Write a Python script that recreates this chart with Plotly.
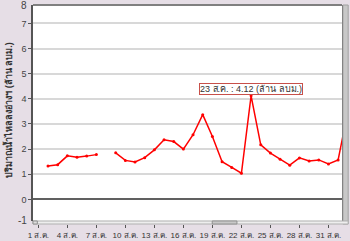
import plotly.graph_objects as go

days = list(range(1, 34))
values = [None, 1.33, 1.38, 1.73, 1.68, 1.72, 1.78, None, 1.85, 1.55, 1.49, 1.66,
          1.97, 2.37, 2.30, 2.00, 2.57, 3.37, 2.50, 1.50, 1.27, 1.04, 4.12, 2.17,
          1.84, 1.60, 1.36, 1.65, 1.53, 1.57, 1.41, 1.57, 3.50]
tick_days = [1, 4, 7, 10, 13, 16, 19, 22, 25, 28, 31]
tick_labels = [f"{d} ส.ค." for d in tick_days]
y_ticks = [0, 1, 2, 3, 4, 5, 6, 7]
y_title = "ปริมาณน้ำไหลลงอ่างฯ (ล้าน ลบม.)"
callout_day = 23
callout_value = 4.12
callout_text = "23 ส.ค. : 4.12 (ล้าน ลบม.)"

FONT = "'Liberation Sans', Arial, sans-serif"
BG = "#e6dee6"
YB = 0.0137  # bottom of the value area inside the paper

fig = go.Figure()
fig.add_trace(go.Scatter(
    x=days, y=values, mode="lines+markers",
    line=dict(color="#ff0000", width=1.5),
    marker=dict(color="#ff0000", size=3),
    connectgaps=False, hoverinfo="skip",
))

fig.add_annotation(
    x=callout_day, y=callout_value, text=callout_text, showarrow=False,
    yanchor="bottom", yshift=1, bgcolor="white", bordercolor="#c8504a",
    borderwidth=1, borderpad=0, font=dict(size=9, color="#333333", family=FONT),
)

fig.add_annotation(xref="paper", yref="paper", x=-0.012, y=1.0, text="8",
                   showarrow=False, xanchor="right", yanchor="middle",
                   font=dict(size=10, color="#444444", family=FONT))
fig.add_annotation(xref="paper", yref="paper", x=-0.012, y=YB, text="-1",
                   showarrow=False, xanchor="right", yanchor="middle",
                   font=dict(size=10, color="#444444", family=FONT))
fig.add_annotation(xref="paper", yref="paper", x=-0.082, y=0.52, text="<b>" + y_title + "</b>",
                   showarrow=False, textangle=-90, xanchor="center", yanchor="middle",
                   font=dict(size=9, color="#333333", family=FONT))

fig.add_shape(type="line", xref="paper", yref="paper", x0=0, x1=1, y0=1, y1=1,
              line=dict(color="#808080", width=2))
fig.add_shape(type="rect", xref="paper", yref="paper", x0=1.003, x1=1.02, y0=0.0, y1=1.0,
              fillcolor="#c8c8c8", line=dict(color="#a0a0a0", width=1))
fig.add_shape(type="rect", xref="paper", yref="paper", x0=0, x1=1.02, y0=0.0, y1=YB,
              fillcolor="#eeeeee", line=dict(color="#b0b0b0", width=1))
fig.add_shape(type="rect", xref="paper", yref="paper", x0=0.58, x1=0.66, y0=0.0, y1=YB,
              fillcolor="#c8c8c8", line=dict(color="#909090", width=1))
fig.add_shape(type="rect", xref="paper", yref="paper", x0=0.0, x1=0.014, y0=0.0, y1=YB,
              fillcolor="#dddddd", line=dict(color="#909090", width=1))

fig.update_layout(
    width=350, height=241,
    margin=dict(l=33, r=8, t=5, b=17, autoexpand=False),
    paper_bgcolor=BG, plot_bgcolor="white",
    showlegend=False,
    font=dict(family=FONT, size=10, color="#333333"),
    xaxis=dict(range=[0.45, 32.4], tickvals=tick_days, ticktext=tick_labels,
               showgrid=False, zeroline=False, showline=False,
               ticks="outside", ticklen=3, tickcolor="#555555",
               anchor="free", position=0, tickangle=0, automargin=False,
               tickfont=dict(size=8, color="#333333", family=FONT)),
    yaxis=dict(range=[-0.86, 7.73], domain=[YB, 1], tickvals=y_ticks,
               showgrid=True, gridcolor="#d8d8d8", gridwidth=1.5,
               zeroline=True, zerolinecolor="#606060", zerolinewidth=1.5,
               showline=True, linecolor="#555555", linewidth=1.5, mirror=True,
               ticks="outside", ticklen=3, tickcolor="#555555", automargin=False,
               tickfont=dict(size=9, color="#444444", family=FONT)),
)

fig.write_html("out.html")
